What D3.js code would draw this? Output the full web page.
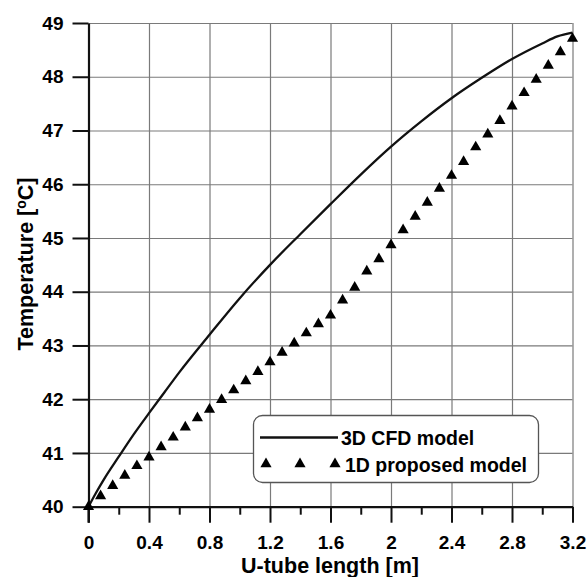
<!DOCTYPE html>
<html>
<head>
<meta charset="utf-8">
<script src="https://cdn.jsdelivr.net/npm/d3@7"></script>
<style>
  body { margin: 0; background: #fff; }
  svg text { font-family: "Liberation Sans", Arial, sans-serif; font-weight: bold; fill: #000; }
</style>
</head>
<body>
<svg id="chart" width="587" height="577"></svg>
<script>
    // 3D CFD model (solid line)
    var cfdX = [0, 0.05, 0.1, 0.2, 0.3, 0.4, 0.5, 0.6, 0.8, 1.0, 1.2, 1.4, 1.6, 1.8, 2.0, 2.2, 2.4, 2.6, 2.8, 3.0, 3.1, 3.2];
    var cfdT = [40.0, 40.26, 40.5, 40.93, 41.35, 41.74, 42.12, 42.5, 43.2, 43.88, 44.5, 45.07, 45.63, 46.18, 46.7, 47.17, 47.6, 47.98, 48.33, 48.62, 48.75, 48.82];

    // 1D proposed model (triangles)
    var oneDX = [0, 0.08, 0.16, 0.24, 0.32, 0.4, 0.48, 0.56, 0.64, 0.72, 0.8, 0.88, 0.96, 1.04, 1.12, 1.2, 1.28, 1.36, 1.44, 1.52,
                 1.6, 1.68, 1.76, 1.84, 1.92, 2.0, 2.08, 2.16, 2.24, 2.32, 2.4, 2.48, 2.56, 2.64, 2.72, 2.8, 2.88, 2.96, 3.04, 3.12, 3.2];
    var oneDT = [40.0, 40.2, 40.39, 40.58, 40.76, 40.92, 41.11, 41.29, 41.48, 41.65, 41.81, 41.99, 42.17, 42.34, 42.51, 42.69, 42.87, 43.04, 43.23, 43.4,
                 43.56, 43.84, 44.08, 44.38, 44.61, 44.87, 45.15, 45.4, 45.66, 45.92, 46.16, 46.42, 46.69, 46.93, 47.18, 47.45, 47.7, 47.95, 48.21, 48.46, 48.71];

    var xTicks = [0, 0.4, 0.8, 1.2, 1.6, 2, 2.4, 2.8, 3.2];
    var xMinorTicks = [0.2, 0.6, 1.0, 1.4, 1.8, 2.2, 2.6, 3.0];
    var yTicks = [40, 41, 42, 43, 44, 45, 46, 47, 48, 49];
    var legendLabels = ['3D CFD model', '1D proposed model'];

    var svg = d3.select('#chart');
    var x = d3.scaleLinear().domain([0, 3.2]).range([88.5, 572.5]);
    var y = d3.scaleLinear().domain([40, 49]).range([506.7, 23]);

    // grid
    svg.append('g')
        .attr('transform', 'translate(0,' + y(40) + ')')
        .call(d3.axisBottom(x).tickValues(xTicks.slice(1)).tickSize(-(y(40) - y(49))).tickFormat(''))
        .call(function (g) {
            g.select('.domain').remove();
            g.selectAll('line').attr('stroke', '#7a7a7a').attr('stroke-width', 1.2);
        });
    svg.append('g')
        .attr('transform', 'translate(' + x(0) + ',0)')
        .call(d3.axisLeft(y).tickValues(yTicks.slice(1)).tickSize(-(x(3.2) - x(0))).tickFormat(''))
        .call(function (g) {
            g.select('.domain').remove();
            g.selectAll('line').attr('stroke', '#7a7a7a').attr('stroke-width', 1.2);
        });

    // minor x ticks
    svg.append('g')
        .attr('transform', 'translate(0,' + y(40) + ')')
        .call(d3.axisBottom(x).tickValues(xMinorTicks).tickSize(8).tickFormat(''))
        .call(function (g) {
            g.select('.domain').remove();
            g.selectAll('line').attr('stroke', '#111').attr('stroke-width', 2);
        });

    // major x axis
    svg.append('g')
        .attr('transform', 'translate(0,' + y(40) + ')')
        .call(d3.axisBottom(x).tickValues(xTicks).tickSize(16).tickPadding(13).tickSizeOuter(0)
            .tickFormat(function (d) { return String(d); }))
        .call(function (g) {
            g.select('.domain').attr('stroke', '#111').attr('stroke-width', 2.2);
            g.selectAll('line').attr('stroke', '#111').attr('stroke-width', 2);
            g.selectAll('text').style('font-size', '19px').attr('fill', '#000');
        });

    // y axis
    svg.append('g')
        .attr('transform', 'translate(' + x(0) + ',0)')
        .call(d3.axisLeft(y).tickValues(yTicks).tickSize(16).tickPadding(9).tickSizeOuter(0))
        .call(function (g) {
            g.select('.domain').attr('stroke', '#111').attr('stroke-width', 2.2);
            g.selectAll('line').attr('stroke', '#111').attr('stroke-width', 2);
            g.selectAll('text').style('font-size', '19px').attr('fill', '#000');
        });
    // extend left axis down to bottom tick
    svg.append('line')
        .attr('x1', x(0)).attr('x2', x(0))
        .attr('y1', y(40)).attr('y2', y(40) + 16)
        .attr('stroke', '#111').attr('stroke-width', 2.2);

    // CFD line
    var line = d3.line()
        .x(function (d, i) { return x(cfdX[i]); })
        .y(function (d) { return y(d); })
        .curve(d3.curveMonotoneX);

    svg.append('path')
        .datum(cfdT)
        .attr('d', line)
        .attr('fill', 'none')
        .attr('stroke', '#111')
        .attr('stroke-width', 2.3);

    // triangles
    var tri = d3.symbol().type(d3.symbolTriangle).size(54);
    svg.append('g').selectAll('path')
        .data(oneDT)
        .join('path')
        .attr('d', tri)
        .attr('transform', function (d, i) { return 'translate(' + x(oneDX[i]) + ',' + y(d) + ')'; })
        .attr('fill', '#000');

    // legend
    var lg = svg.append('g');
    lg.append('rect')
        .attr('x', 253.5).attr('y', 415.5)
        .attr('width', 285).attr('height', 67)
        .attr('rx', 9)
        .attr('fill', '#fff')
        .attr('stroke', '#555')
        .attr('stroke-width', 1.3);
    lg.append('line')
        .attr('x1', 260).attr('x2', 338)
        .attr('y1', 437.5).attr('y2', 437.5)
        .attr('stroke', '#111').attr('stroke-width', 2.4);
    lg.append('text')
        .attr('x', 341).attr('y', 444.5)
        .style('font-size', '19.5px')
        .text(legendLabels[0]);
    [266, 300, 335].forEach(function (lx) {
        lg.append('path')
            .attr('d', tri)
            .attr('transform', 'translate(' + lx + ',464)')
            .attr('fill', '#000');
    });
    lg.append('text')
        .attr('x', 345).attr('y', 471.5)
        .style('font-size', '19.5px')
        .text(legendLabels[1]);

    // axis titles
    svg.append('text')
        .attr('x', 330).attr('y', 573)
        .attr('text-anchor', 'middle')
        .style('font-size', '21.5px')
        .text('U-tube length [m]');

    var yt = svg.append('text')
        .attr('transform', 'translate(33,264) rotate(-90)')
        .attr('text-anchor', 'middle')
        .style('font-size', '21.5px');
    yt.append('tspan').text('Temperature [');
    yt.append('tspan').attr('dy', -7).style('font-size', '14px').text('o');
    yt.append('tspan').attr('dy', 7).text('C]');
</script>
</body>
</html>
